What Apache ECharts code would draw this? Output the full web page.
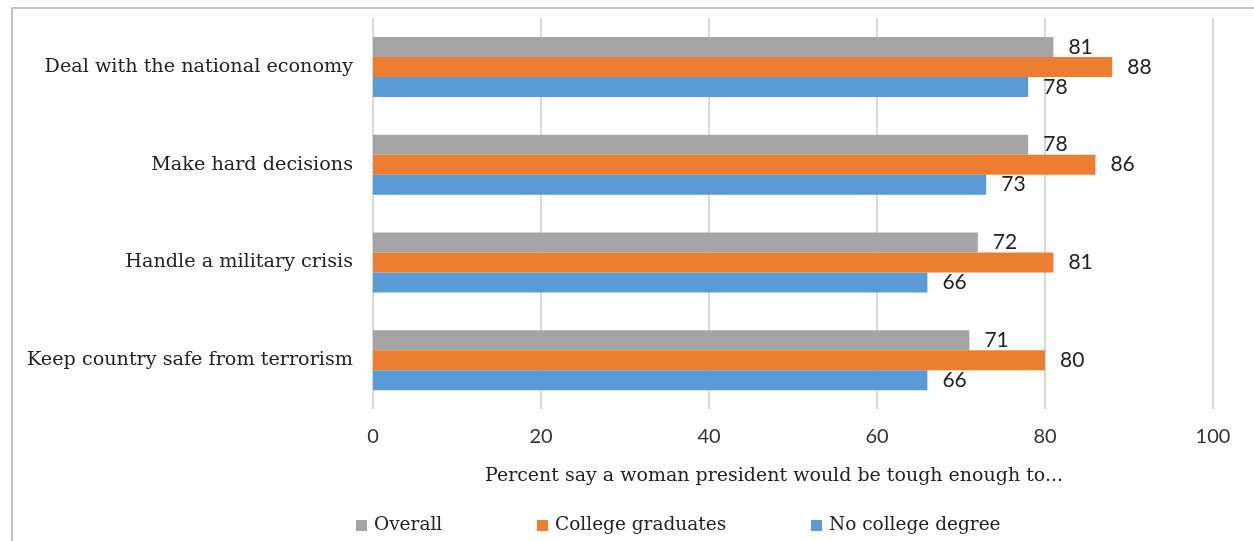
<!DOCTYPE html>
<html>
<head>
<meta charset="utf-8">
<script src="https://cdn.jsdelivr.net/npm/echarts@6/dist/echarts.min.js"></script>
<style>
html,body{margin:0;padding:0;background:#fff;}
#chart{width:1254px;height:541px;}
</style>
</head>
<body>
<div id="chart"></div>
<script>
const categories = ["Deal with the national economy", "Make hard decisions", "Handle a military crisis", "Keep country safe from terrorism"];
const seriesNames = ["Overall", "College graduates", "No college degree"];
const overall = [81, 78, 72, 71];
const collegeGrads = [88, 86, 81, 80];
const noCollege = [78, 73, 66, 66];
const xTicks = [0, 20, 40, 60, 80, 100];
const axisTitle = "Percent say a woman president would be tough enough to...";
const colors = ["#A5A5A5", "#ED7D31", "#5B9BD5"];

const serif = "'DejaVu Serif', serif";
const sans = "Lato, 'Open Sans', sans-serif";

const chart = echarts.init(document.getElementById('chart'), null, {renderer: 'canvas'});
const values = [overall, collegeGrads, noCollege];
const legendX = [356, 537, 811];

const option = {
  animation: false,
  backgroundColor: '#ffffff',
  graphic: [{
    type: 'rect', shape: {x: 12, y: 8, width: 1400, height: 800},
    style: {fill: 'none', stroke: '#C9C1B8', lineWidth: 2}, silent: true
  }],
  legend: seriesNames.map((n, i) => ({
    data: [n], left: legendX[i], top: 516, padding: 0, itemWidth: 11, itemHeight: 11, itemGap: 0,
    icon: 'rect', textStyle: {fontFamily: serif, fontSize: 18.5, color: '#222', padding: [0, 0, 0, 2]}
  })),
  grid: {left: 373, right: 41, top: 18, bottom: 132, containLabel: false},
  xAxis: {
    type: 'value', min: 0, max: 100, interval: 20,
    axisLine: {show: false}, axisTick: {show: false},
    splitLine: {show: true, lineStyle: {color: '#D9D9D9', width: 2}},
    axisLabel: {fontFamily: sans, fontSize: 20, color: '#333', margin: 18,
      formatter: v => xTicks.includes(v) ? String(v) : ''},
    name: axisTitle, nameLocation: 'middle', nameGap: 58,
    nameTextStyle: {fontFamily: serif, fontSize: 19, color: '#222', padding: [0, 38, 0, 0]}
  },
  yAxis: {
    type: 'category', data: categories, inverse: true,
    axisLine: {show: true, lineStyle: {color: '#D9D9D9', width: 1}},
    axisTick: {show: false},
    axisLabel: {fontFamily: serif, fontSize: 19.2, color: '#222', margin: 20}
  },
  series: seriesNames.map((n, i) => ({
    name: n, type: 'bar', data: values[i], barWidth: 20, barGap: '0%',
    itemStyle: {color: colors[i]},
    label: {show: true, position: 'right', distance: 15, fontFamily: sans, fontSize: 21, color: '#222'}
  }))
};
chart.setOption(option);
</script>
</body>
</html>
